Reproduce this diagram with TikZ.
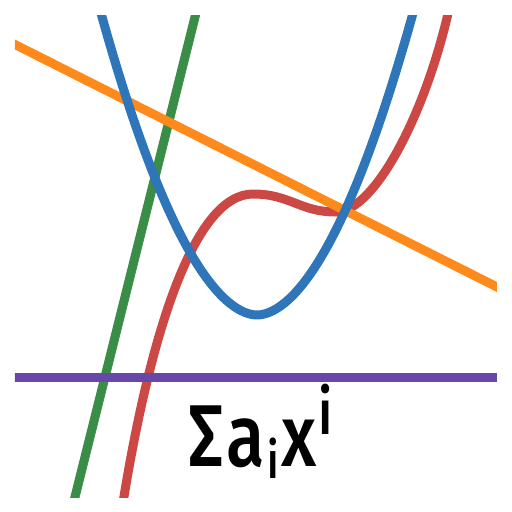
\documentclass[tikz,border=0pt]{standalone}
\usepackage{fontspec}
\newfontfamily\labelfont{Fira Sans}[UprightFont=* Medium]
\definecolor{cblue}{RGB}{46,117,185}
\definecolor{corange}{RGB}{255,138,28}
\definecolor{cgreen}{RGB}{58,141,71}
\definecolor{cred}{RGB}{204,72,68}
\definecolor{cpurple}{RGB}{102,72,170}
\begin{document}
\begin{tikzpicture}[x=0.02cm,y=-0.02cm,
  curve/.style={line width=0.18cm},
  lbl/.style={inner sep=0pt, font=\labelfont\fontsize{50}{52}\selectfont, xscale=0.8}]
\useasboundingbox (0,0) rectangle (512,512);
\begin{scope}
\clip (15,15) rectangle (497,497);
\draw[curve, cgreen] (73,505) -- (198,5);
\draw[curve, cred] (121,515) .. controls (150,330) and (195,194) .. (253,194)
  .. controls (290,194) and (300,212) .. (336,212)
  .. controls (375,212) and (428,110) .. (451,0);
\draw[curve, corange] (5,39.5) -- (507,292);
\draw[curve, cblue] plot[domain=93:421, samples=132] (\x, {315-0.02541*abs(\x-257)^1.858});
\draw[curve, cpurple] (5,377) -- (507,377);
\end{scope}
\node[lbl, anchor=base west] (formula) at (188,466) {Σ\kern2pt a\kern2pt\raisebox{-7pt}{\fontsize{29}{30}\selectfont i}\kern2pt x\kern1pt\raisebox{18pt}{\fontsize{36}{38}\selectfont i}};
\end{tikzpicture}
\end{document}
